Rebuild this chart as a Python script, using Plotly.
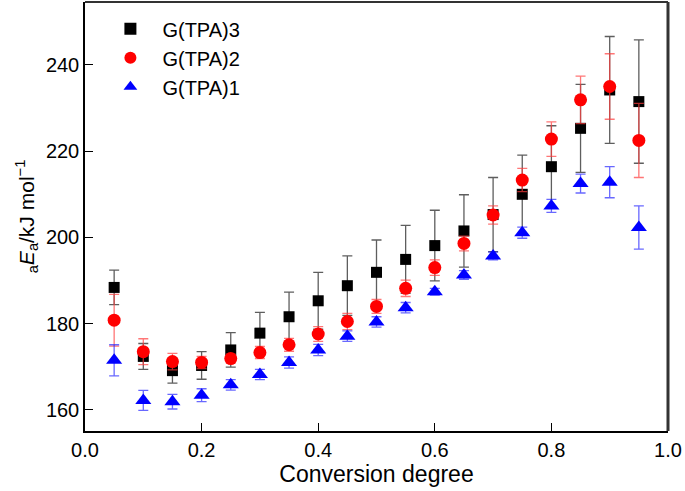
import plotly.graph_objects as go

conversion = [0.05, 0.10, 0.15, 0.20, 0.25, 0.30, 0.35, 0.40, 0.45, 0.50,
              0.55, 0.60, 0.65, 0.70, 0.75, 0.80, 0.85, 0.90, 0.95]

tpa3_ea = [188.4, 172.4, 169.1, 170.3, 173.9, 177.8, 181.6, 185.3, 188.8, 191.9,
           194.9, 198.1, 201.5, 205.3, 210.0, 216.4, 225.3, 234.2, 231.5]
tpa3_err = [4.0, 3.0, 2.9, 3.2, 4.0, 4.8, 5.7, 6.6, 6.9, 7.5,
            7.9, 8.2, 8.4, 8.6, 9.1, 9.5, 10.2, 12.4, 14.3]

tpa2_ea = [180.8, 173.5, 171.2, 171.0, 171.9, 173.3, 175.1, 177.6, 180.5, 184.0,
           188.2, 193.0, 198.6, 205.2, 213.3, 222.8, 231.9, 235.0, 222.5]
tpa2_err = [6.0, 3.0, 1.9, 1.4, 1.0, 1.4, 1.5, 1.7, 1.9, 1.6,
            1.9, 1.8, 1.7, 2.1, 2.7, 4.0, 5.5, 7.6, 8.6]

tpa1_ea = [171.5, 162.2, 161.9, 163.4, 165.8, 168.2, 171.0, 173.9, 177.1, 180.4,
           183.7, 187.4, 191.3, 195.7, 201.1, 207.3, 212.5, 212.8, 202.3]
tpa1_err = [3.6, 2.3, 1.7, 1.5, 1.2, 1.2, 1.3, 1.3, 1.2, 1.2,
            1.2, 0.8, 1.0, 0.9, 1.3, 1.5, 2.2, 3.6, 5.0]

x_ticks = [0.0, 0.2, 0.4, 0.6, 0.8, 1.0]
x_ticklabels = ["0.0", "0.2", "0.4", "0.6", "0.8", "1.0"]
y_ticks = [160, 180, 200, 220, 240]

FONT = "Liberation Sans, Arial, Helvetica, sans-serif"

fig = go.Figure()

fig.add_trace(go.Scatter(
    x=conversion, y=tpa3_ea, mode="markers", name="G(TPA)3",
    marker=dict(symbol="square", size=11, color="black"),
    error_y=dict(type="data", array=tpa3_err, visible=True,
                 color="rgba(40,40,40,0.75)", thickness=1.3, width=5),
))
fig.add_trace(go.Scatter(
    x=conversion, y=tpa2_ea, mode="markers", name="G(TPA)2",
    marker=dict(symbol="circle", size=13, color="#ff0000"),
    error_y=dict(type="data", array=tpa2_err, visible=True,
                 color="rgba(255,60,60,0.7)", thickness=1.3, width=5),
))
fig.add_trace(go.Scatter(
    x=conversion, y=tpa1_ea, mode="markers", name="G(TPA)1",
    marker=dict(symbol="triangle-up", size=14, color="#0000ff"),
    error_y=dict(type="data", array=tpa1_err, visible=True,
                 color="rgba(40,40,255,0.7)", thickness=1.3, width=5),
))

fig.update_layout(
    width=685, height=491,
    margin=dict(l=85, r=17, t=2, b=60),
    paper_bgcolor="white", plot_bgcolor="white",
    font=dict(family=FONT, size=16, color="black"),
    showlegend=True,
    legend=dict(x=0.023, y=0.983, xanchor="left", yanchor="top",
                bgcolor="rgba(0,0,0,0)", borderwidth=0,
                font=dict(family=FONT, size=20, color="black"),
                itemsizing="constant", itemwidth=54),
    shapes=[
        dict(type="line", xref="paper", yref="paper", x0=1, x1=1, y0=0, y1=1,
             line=dict(color="#333333", width=3)),
        dict(type="line", xref="paper", yref="paper", x0=0, x1=1, y0=1, y1=1,
             line=dict(color="#333333", width=2)),
    ],
)

fig.update_xaxes(
    range=[0, 1], tickvals=x_ticks, ticktext=x_ticklabels,
    ticks="inside", ticklen=8, tickwidth=1.3, tickcolor="black",
    showline=True, linecolor="black", linewidth=1.5, mirror=False,
    showgrid=False, zeroline=False,
    tickfont=dict(family=FONT, size=20, color="black"),
    title=dict(text="Conversion degree", font=dict(family=FONT, size=23, color="black"), standoff=5),
)
fig.update_yaxes(
    range=[155.1, 254.6], tickvals=y_ticks,
    ticks="inside", ticklen=8, tickwidth=1.3, tickcolor="black",
    showline=True, linecolor="black", linewidth=1.5, mirror=False,
    showgrid=False, zeroline=False,
    tickfont=dict(family=FONT, size=20, color="black"),
    title=dict(text="<sub>a</sub><i>E</i><sub>a</sub>/kJ mol<sup>−1</sup>",
               font=dict(family=FONT, size=21, color="black"), standoff=6),
)

fig.write_html("out.html", config={"displayModeBar": False},
               post_script="document.body.style.margin='0';document.body.style.overflow='hidden';")
